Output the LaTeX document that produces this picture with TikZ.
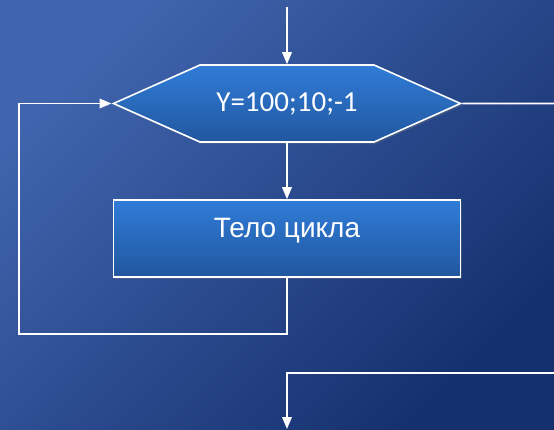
\documentclass[tikz,border=0pt]{standalone}
\usepackage{fontspec}
\setmainfont{Liberation Sans}
\newfontfamily\calibri{Carlito}
\usetikzlibrary{arrows.meta,shapes.symbols,positioning,shadows}

\definecolor{bgtop}{RGB}{64,101,174}
\definecolor{bgbottom}{RGB}{21,48,110}
\definecolor{boxtop}{RGB}{48,124,216}
\definecolor{boxbottom}{RGB}{33,87,158}

\begin{document}
\begin{tikzpicture}[node distance = 135pt]
	\tikzset{BlockStyle/.style = {
			draw=white, line width=1.6pt,
			top color=boxtop, bottom color=boxbottom,
			drop shadow={shadow xshift=1.5pt, shadow yshift=-2pt, opacity=0.3},
			text=white
	}}
	\tikzset{LineStyle/.style = {
			draw=white, line width=1.8pt,
			-{Triangle[length=12pt,width=9.5pt]}
	}}
	\useasboundingbox (0,0) rectangle (554pt,-429pt);
	% background
	\path[top color=bgtop, bottom color=bgbottom, shading angle=45]
		(0,0) rectangle (554pt,-429pt);
	
	\node[BlockStyle, shape=signal, signal to=west and east, signal pointer angle=48,
		minimum width=347pt, minimum height=77pt, inner sep=0pt,
		font=\calibri\fontsize{29}{34}\selectfont] (1) at (287pt,-103.5pt) {Y=100;10;-1};
	\node[BlockStyle, rectangle, below of=1, minimum width=347pt, minimum height=77pt,
		text height=11pt, text depth=14pt,
		font=\fontsize{28}{34}\selectfont] (2) {Тело цикла};
	
	\coordinate (0) at (287pt,-7pt);
	\coordinate (3) at (19pt,-334pt);
	\coordinate (4) at (554pt,-103.5pt);
	\coordinate (5) at (554pt,-373pt);
	\coordinate (6) at (287pt,-429pt);
	
	\draw [LineStyle] (0) -- (1);
	\draw [LineStyle] (1) -- (2);
	\draw [LineStyle] (2) |- (3) |- (1);
	\draw [LineStyle, -] (1) -- (4);
	\draw [LineStyle] (5) -| (6);
\end{tikzpicture}
\end{document}
